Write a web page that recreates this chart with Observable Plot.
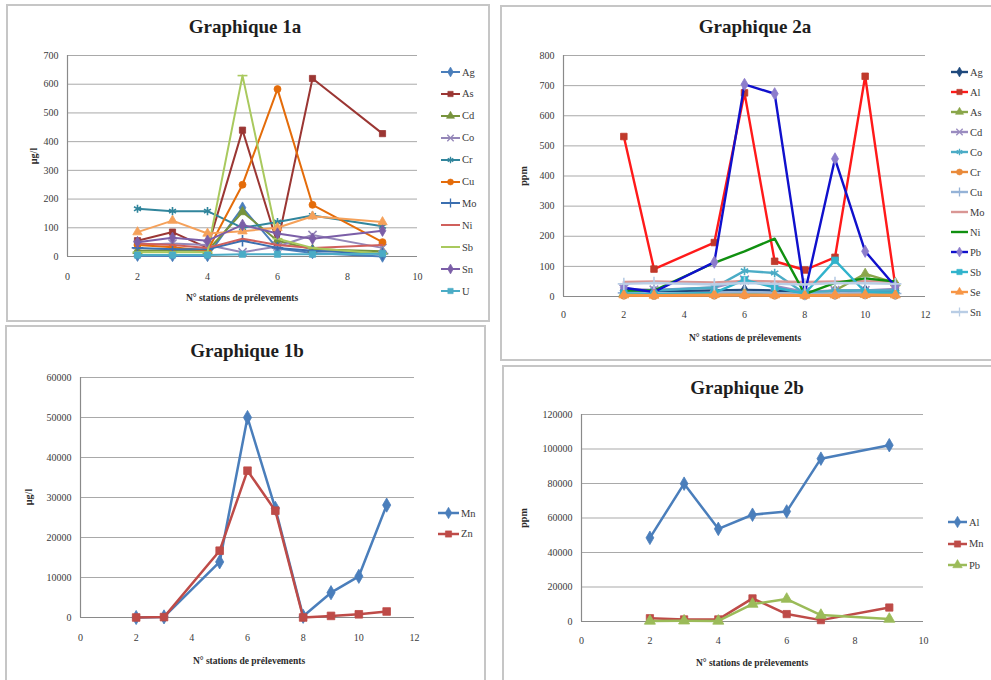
<!DOCTYPE html>
<html>
<head>
<meta charset="utf-8">
<script src="https://cdn.jsdelivr.net/npm/d3@7"></script>
<script src="https://cdn.jsdelivr.net/npm/@observablehq/plot@0.6"></script>
<style>
  html, body { margin:0; padding:0; background:#ffffff; }
  body { position:relative; width:991px; height:680px; overflow:hidden; font-family:"Liberation Serif","DejaVu Serif",serif; }
  .box { position:absolute; border:2px solid #c6c6c6; background:#fff; box-sizing:border-box; }
  .ttl { position:absolute; font-weight:bold; font-size:19px; color:#1e1e1e; transform:translate(-50%,-50%); white-space:nowrap; }
  .xt { position:absolute; font-weight:bold; font-size:9.5px; color:#2a2a2a; transform:translate(-50%,-50%); white-space:nowrap; }
  .yt { position:absolute; font-weight:bold; font-size:10px; color:#2a2a2a; transform:translate(-50%,-50%) rotate(-90deg); white-space:nowrap; }
  svg.chart { position:absolute; overflow:visible; font-family:"Liberation Serif","DejaVu Serif",serif !important; }
  svg.chart text { font-family:"Liberation Serif","DejaVu Serif",serif; }
</style>
</head>
<body>
<script>
// ---------------- DATA ----------------
// Graphique 1a (µg/l)
const stations1a = [2, 3, 4, 5, 6, 7, 9];
const names1a = ["Ag", "As", "Cd", "Co", "Cr", "Cu", "Mo", "Ni", "Sb", "Se", "Sn", "U"];
const legend1a = ["Ag", "As", "Cd", "Co", "Cr", "Cu", "Mo", "Ni", "Sb", "Sn", "U"];
const ag1a = [3, 2, 2, 170, 28, 12, 0];
const as1a = [55, 85, 30, 440, 45, 620, 428];
const cd1a = [20, 22, 20, 155, 55, 25, 18];
const co1a = [40, 45, 40, 15, 35, 75, 30];
const cr1a = [166, 158, 158, 100, 120, 143, 105];
const cu1a = [40, 32, 20, 250, 583, 180, 50];
const mo1a = [30, 25, 25, 55, 30, 20, 10];
const ni1a = [45, 40, 30, 62, 40, 30, 40];
const sb1a = [15, 15, 15, 630, 62, 30, 10];
const se1a = [85, 125, 80, 88, 100, 140, 120];
const sn1a = [50, 65, 55, 110, 80, 62, 90];
const u1a = [5, 5, 5, 8, 8, 8, 10];
const values1a = [ag1a, as1a, cd1a, co1a, cr1a, cu1a, mo1a, ni1a, sb1a, se1a, sn1a, u1a];
const xTicks1a = [0, 2, 4, 6, 8, 10];
const yTicks1a = [0, 100, 200, 300, 400, 500, 600, 700];

// Graphique 2a (ppm)
const stations2a = [2, 3, 5, 6, 7, 8, 9, 10, 11];
const names2a = ["Ag", "Al", "As", "Cd", "Co", "Cr", "Cu", "Mo", "Ni", "Pb", "Sb", "Se", "Sn"];
const ag2a = [20, 18, 20, 22, 20, 15, 18, 20, 20];
const al2a = [531, 91, 179, 676, 117, 88, 130, 731, 35];
const as2a = [10, 8, 10, 12, 10, 8, 20, 75, 45];
const cd2a = [25, 22, 30, 55, 35, 15, 20, 20, 25];
const co2a = [15, 20, 30, 85, 78, 10, 20, 20, 20];
const cr2a = [3, 2, 3, 4, 3, 2, 3, 4, 3];
const cu2a = [12, 10, 12, 15, 12, 8, 10, 12, 10];
const mo2a = [48, 50, 47, 52, 50, 48, 50, 51, 49];
const ni2a = [20, 20, 112, 150, 192, 8, 45, 60, 50];
const pb2a = [29, 15, 114, 704, 673, 12, 457, 150, 33];
const sb2a = [10, 8, 12, 55, 30, 10, 120, 15, 10];
const se2a = [5, 4, 6, 5, 5, 4, 5, 6, 5];
const sn2a = [42, 45, 40, 45, 42, 40, 45, 44, 42];
const values2a = [ag2a, al2a, as2a, cd2a, co2a, cr2a, cu2a, mo2a, ni2a, pb2a, sb2a, se2a, sn2a];
const xTicks2a = [0, 2, 4, 6, 8, 10, 12];
const yTicks2a = [0, 100, 200, 300, 400, 500, 600, 700, 800];

// Graphique 1b (µg/l)
const stations1b = [2, 3, 5, 6, 7, 8, 9, 10, 11];
const names1b = ["Mn", "Zn"];
const mn1b = [0, 150, 13900, 50000, 27300, 300, 6200, 10300, 28100];
const zn1b = [0, 100, 16700, 36700, 26700, 0, 400, 800, 1500];
const values1b = [mn1b, zn1b];
const xTicks1b = [0, 2, 4, 6, 8, 10, 12];
const yTicks1b = [0, 10000, 20000, 30000, 40000, 50000, 60000];

// Graphique 2b (ppm)
const stations2b = [2, 3, 4, 5, 6, 7, 9];
const names2b = ["Al", "Mn", "Pb"];
const al2b = [48500, 79900, 53700, 61900, 63800, 94400, 102200];
const mn2b = [1900, 1200, 1200, 13400, 4300, 800, 8100];
const pb2b = [300, 400, 300, 10100, 13000, 3700, 1400];
const values2b = [al2b, mn2b, pb2b];
const xTicks2b = [0, 2, 4, 6, 8, 10];
const yTicks2b = [0, 20000, 40000, 60000, 80000, 100000, 120000];

const xLabel = "N° stations de prélevements";

// ---------------- STYLES ----------------
const FONT = '"Liberation Serif","DejaVu Serif",serif';
const dashSymbol = { draw(ctx, size) { const w = Math.sqrt(size / Math.PI) * 1.3; ctx.moveTo(-w, 0); ctx.lineTo(w, 0); } };
const SYM = {
  diamond: d3.symbolDiamond, square: d3.symbolSquare, triangle: d3.symbolTriangle,
  times: d3.symbolTimes || d3.symbolX, asterisk: d3.symbolAsterisk || d3.symbolWye,
  circle: d3.symbolCircle, plus: d3.symbolPlus || d3.symbolCross, dash: dashSymbol
};
const FILLED = new Set(["diamond", "square", "triangle", "circle"]);

const colors1a = ["#4a7ebb", "#9b3633", "#77933c", "#9486b8", "#31859c", "#e46c0a", "#3b6fb0", "#d0605c", "#a9c95e", "#f5a15a", "#7b5ea7", "#4bacc6"];
const symbols1a = ["diamond", "square", "triangle", "times", "asterisk", "circle", "plus", null, "dash", "triangle", "diamond", "square"];

const colors2a = ["#1f497d", "#ff1a1a", "#8aa64a", "#9a8cc0", "#4bacc6", "#e98a3a", "#95b3d7", "#d99694", "#109010", "#1010cc", "#31b3cc", "#f79646", "#b9cde5"];
const markers2a = ["#1f497d", "#c0392b", "#8aa64a", "#9a8cc0", "#4bacc6", "#e98a3a", "#95b3d7", "#d99694", "#109010", "#8c7ccc", "#31b3cc", "#f79646", "#b9cde5"];
const symbols2a = ["diamond", "square", "triangle", "times", "asterisk", "circle", "plus", null, null, "diamond", "square", "triangle", "plus"];

const colors1b = ["#4a7ebb", "#be4b48"];
const symbols1b = ["diamond", "square"];
const colors2b = ["#4a7ebb", "#be4b48", "#9bbb59"];
const symbols2b = ["diamond", "square", "triangle"];

// ---------------- HELPERS ----------------
function addDiv(cls, text, x, y, extra) {
  const d = document.createElement("div");
  d.className = cls;
  d.textContent = text;
  d.style.left = x + "px";
  d.style.top = y + "px";
  if (extra) Object.assign(d.style, extra);
  document.body.appendChild(d);
  return d;
}
function addBox(l, t, w, h) {
  const d = document.createElement("div");
  d.className = "box";
  Object.assign(d.style, { left: l + "px", top: t + "px", width: w + "px", height: h + "px" });
  document.body.appendChild(d);
}

function drawPanel(p) {
  const mL = 48, mR = 14, mT = 10, mB = 34;
  const W = mL + (p.px1 - p.px0) + mR, H = mT + (p.py1 - p.py0) + mB;
  const marks = [
    Plot.gridY(p.yTicks, { stroke: "#a9a9a9", strokeOpacity: 1, strokeWidth: 1 }),
    Plot.ruleY([0], { stroke: "#8a8a8a", strokeWidth: 1.2 }),
    Plot.ruleX([p.xDomain[0]], { stroke: "#8a8a8a", strokeWidth: 1.2 }),
    Plot.axisX(p.xTicks, { tickSize: 0, tickPadding: p.xPad, label: null, tickFormat: d => String(d), fill: "#3a3a3a", fontFamily: FONT, fontSize: 10 }),
    Plot.axisY(p.yTicks, { tickSize: 0, tickPadding: 9, label: null, tickFormat: d => String(d), fill: "#3a3a3a", fontFamily: FONT, fontSize: 10 })
  ];
  p.names.forEach((name, i) => {
    const vals = p.values[i];
    const data = p.stations.map((x, j) => ({ x, y: vals[j], s: name }));
    marks.push(Plot.line(data, { x: "x", y: "y", stroke: p.colors[i], strokeWidth: p.lw, strokeLinejoin: "round" }));
    const sym = p.symbols[i];
    if (sym) {
      const mc = (p.markers || p.colors)[i];
      const filled = FILLED.has(sym);
      marks.push(Plot.dot(data, {
        x: "x", y: "y", symbol: SYM[sym], r: filled ? p.r : p.r + 0.3,
        fill: filled ? mc : "none", stroke: mc, strokeWidth: filled ? 0.8 : 1.6
      }));
    }
  });
  const svg = Plot.plot({
    width: W, height: H, marginLeft: mL, marginRight: mR, marginTop: mT, marginBottom: mB,
    x: { domain: p.xDomain }, y: { domain: p.yDomain },
    style: { fontFamily: FONT, fontSize: "10px", color: "#3a3a3a", background: "transparent", overflow: "visible" },
    marks
  });
  svg.classList.add("chart");
  svg.style.left = (p.px0 - mL) + "px";
  svg.style.top = (p.py0 - mT) + "px";
  document.body.appendChild(svg);

  // legend
  const legendNames = p.legend || p.names;
  legendNames.forEach((name, k) => {
    const i = p.names.indexOf(name);
    const color = p.colors[i], mc = (p.markers || p.colors)[i], sym = p.symbols[i];
    const w = p.lx1 - p.lx0;
    const row = document.createElement("div");
    Object.assign(row.style, {
      position: "absolute", left: p.lx0 + "px", top: (p.ly + k * p.lstep - 7) + "px", height: "14px",
      display: "flex", alignItems: "center", font: "10.5px " + FONT, color: "#3a3a3a", whiteSpace: "nowrap"
    });
    const s = d3.create("svg").attr("width", w + 2).attr("height", 14);
    s.append("line").attr("x1", 1).attr("x2", w + 1).attr("y1", 7).attr("y2", 7)
      .attr("stroke", color).attr("stroke-width", p.lw);
    if (sym) {
      const filled = FILLED.has(sym);
      s.append("path").attr("transform", `translate(${w / 2 + 1},7)`)
        .attr("d", d3.symbol(SYM[sym], Math.PI * p.lr * p.lr)())
        .attr("fill", filled ? mc : "none").attr("stroke", mc).attr("stroke-width", filled ? 0.6 : 1.3);
    }
    row.appendChild(s.node());
    const t = document.createElement("span");
    t.textContent = name;
    t.style.marginLeft = "1px";
    row.appendChild(t);
    document.body.appendChild(row);
  });
}

// ---------------- BOXES & TEXT ----------------
addBox(6, 4, 484, 318);
addBox(500, 5, 500, 356);
addBox(5, 325, 481, 370);
addBox(502, 365, 500, 330);

addDiv("ttl", "Graphique 1a", 245, 27);
addDiv("ttl", "Graphique 2a", 755, 27);
addDiv("ttl", "Graphique 1b", 247, 351);
addDiv("ttl", "Graphique 2b", 747, 388);

addDiv("xt", xLabel, 242, 298);
addDiv("xt", xLabel, 745, 338);
addDiv("xt", xLabel, 249, 661);
addDiv("xt", xLabel, 752, 663);

addDiv("yt", "µg/l", 33, 156);
addDiv("yt", "ppm", 523, 176);
addDiv("yt", "µg/l", 28, 497);
addDiv("yt", "ppm", 523, 518);

// ---------------- PANELS ----------------
drawPanel({
  px0: 67, px1: 417, py0: 55, py1: 256, xDomain: [0, 10], yDomain: [0, 700],
  xTicks: xTicks1a, yTicks: yTicks1a, xPad: 16, lw: 2, r: 3.5,
  stations: stations1a, names: names1a, values: values1a, colors: colors1a, symbols: symbols1a,
  legend: legend1a, lx0: 440, lx1: 459, ly: 72, lstep: 21.9, lr: 3
});
drawPanel({
  px0: 563, px1: 925, py0: 55, py1: 296, xDomain: [0, 12], yDomain: [0, 800],
  xTicks: xTicks2a, yTicks: yTicks2a, xPad: 14, lw: 2.4, r: 3.7,
  stations: stations2a, names: names2a, values: values2a, colors: colors2a, markers: markers2a, symbols: symbols2a,
  lx0: 950, lx1: 967, ly: 72, lstep: 20, lr: 3
});
drawPanel({
  px0: 80, px1: 414, py0: 377, py1: 617, xDomain: [0, 12], yDomain: [0, 60000],
  xTicks: xTicks1b, yTicks: yTicks1b, xPad: 16, lw: 2.5, r: 4.3,
  stations: stations1b, names: names1b, values: values1b, colors: colors1b, symbols: symbols1b,
  lx0: 437, lx1: 458, ly: 513, lstep: 20.5, lr: 3.5
});
drawPanel({
  px0: 581, px1: 923, py0: 414, py1: 621, xDomain: [0, 10], yDomain: [0, 120000],
  xTicks: xTicks2b, yTicks: yTicks2b, xPad: 15, lw: 2.5, r: 4.1,
  stations: stations2b, names: names2b, values: values2b, colors: colors2b, symbols: symbols2b,
  lx0: 947, lx1: 966, ly: 522, lstep: 21.5, lr: 3.5
});
</script>
</body>
</html>
